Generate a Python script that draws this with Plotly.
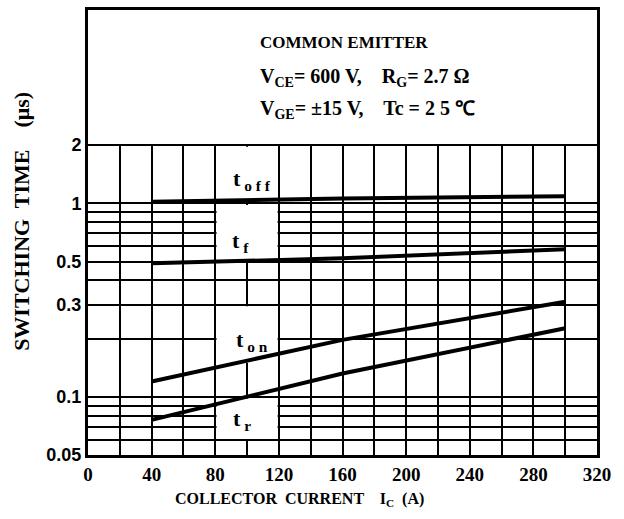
import math
import plotly.graph_objects as go

# ---- data ----
ic_points = [40, 160, 300]
t_off = [1.02, 1.06, 1.09]
t_f = [0.49, 0.52, 0.58]
t_on = [0.12, 0.197, 0.31]
t_r = [0.076, 0.132, 0.226]

x_ticks = [0, 40, 80, 120, 160, 200, 240, 280, 320]
x_minor = [20, 60, 100, 140, 180, 220, 260, 300]
y_ticks = [0.05, 0.1, 0.3, 0.5, 1, 2]
y_tick_text = ["0.05", "0.1", "0.3", "0.5", "1", "2"]
y_minor = [0.06, 0.07, 0.08, 0.09, 0.2, 0.4, 0.6, 0.7, 0.8, 0.9]

curve_labels = [
    ("t<sub> o f f</sub>", 103, 1.32),
    ("t<sub> f</sub>", 96, 0.63),
    ("t<sub> o n</sub>", 103, 0.195),
    ("t<sub> r</sub>", 97, 0.0755),
]

SERIF = "Liberation Serif"
SANS = "Liberation Sans"

fig = go.Figure()
for ys in (t_off, t_f, t_on, t_r):
    fig.add_trace(go.Scatter(x=ic_points, y=ys, mode="lines",
                             line=dict(color="black", width=4),
                             showlegend=False, hoverinfo="skip"))

# white area above the grid (2 .. 10) and white boxes behind curve labels
shapes = [
    dict(type="rect", xref="x", yref="y", x0=0, x1=320, y0=2.03, y1=10,
         fillcolor="white", line_width=0, layer="between"),
    dict(type="rect", xref="x", yref="y", x0=80.8, x1=119.2, y0=1.02, y1=1.96,
         fillcolor="white", line_width=0, layer="between"),
    dict(type="rect", xref="x", yref="y", x0=80.8, x1=119.2, y0=0.51, y1=0.98,
         fillcolor="white", line_width=0, layer="between"),
    dict(type="rect", xref="x", yref="y", x0=80.8, x1=119.2, y0=0.15, y1=0.294,
         fillcolor="white", line_width=0, layer="between"),
    dict(type="rect", xref="x", yref="y", x0=80.8, x1=119.2, y0=0.0605, y1=0.098,
         fillcolor="white", line_width=0, layer="between"),
]

annotations = []
for text, xv, yv in curve_labels:
    annotations.append(dict(x=xv, y=math.log10(yv), xref="x", yref="y",
                            text=text, showarrow=False,
                            font=dict(family=SERIF, size=22, color="black", weight="bold")))

header = [
    ("COMMON EMITTER", 0.928, 17),
    ("V<sub>CE</sub>= 600 V,    R<sub>G</sub>= 2.7 Ω", 0.848, 20),
    ("V<sub>GE</sub>= ±15 V,    Tc = 2 5 ℃", 0.776, 20),
]
for text, yp, sz in header:
    annotations.append(dict(x=0.334, y=yp, xref="paper", yref="paper",
                            xanchor="left", yanchor="middle", text=text,
                            showarrow=False,
                            font=dict(family=SERIF, size=sz, color="black", weight="bold")))

annotations.append(dict(x=0.4165, y=-0.10, xref="paper", yref="paper",
                        xanchor="center", yanchor="middle",
                        text="COLLECTOR  CURRENT    I<sub>C</sub>  (A)",
                        showarrow=False,
                        font=dict(family=SERIF, size=16, color="black", weight="bold")))
annotations.append(dict(x=-0.131, y=0.5246, xref="paper", yref="paper",
                        xanchor="center", yanchor="middle", textangle=-90,
                        text="SWITCHING  TIME    (μs)",
                        showarrow=False,
                        font=dict(family=SERIF, size=22, color="black", weight="bold")))

grid_minor = dict(showgrid=True, gridcolor="black", gridwidth=2, ticks="")

fig.update_layout(
    width=624, height=519,
    margin=dict(l=88, r=27, t=7, b=64),
    paper_bgcolor="white", plot_bgcolor="white",
    shapes=shapes, annotations=annotations,
    xaxis=dict(range=[0, 320], tickmode="array", tickvals=x_ticks,
               minor=dict(tickmode="array", tickvals=x_minor, **grid_minor),
               showgrid=True, gridcolor="black", gridwidth=2, zeroline=False,
               showline=True, linecolor="black", linewidth=3, mirror=True,
               ticks="", tickfont=dict(family=SERIF, size=19, color="black", weight="bold")),
    yaxis=dict(type="log", range=[math.log10(0.05), 1], tickmode="array",
               tickvals=y_ticks, ticktext=y_tick_text,
               minor=dict(tickmode="array", tickvals=y_minor, **grid_minor),
               showgrid=True, gridcolor="black", gridwidth=2, zeroline=False,
               showline=True, linecolor="black", linewidth=3, mirror=True,
               ticks="", tickfont=dict(family=SANS, size=18, color="black", weight="bold")),
)

fig.write_html("out.html", config={"displayModeBar": False},
               post_script="document.body.style.margin='0';document.body.style.overflow='hidden';")
